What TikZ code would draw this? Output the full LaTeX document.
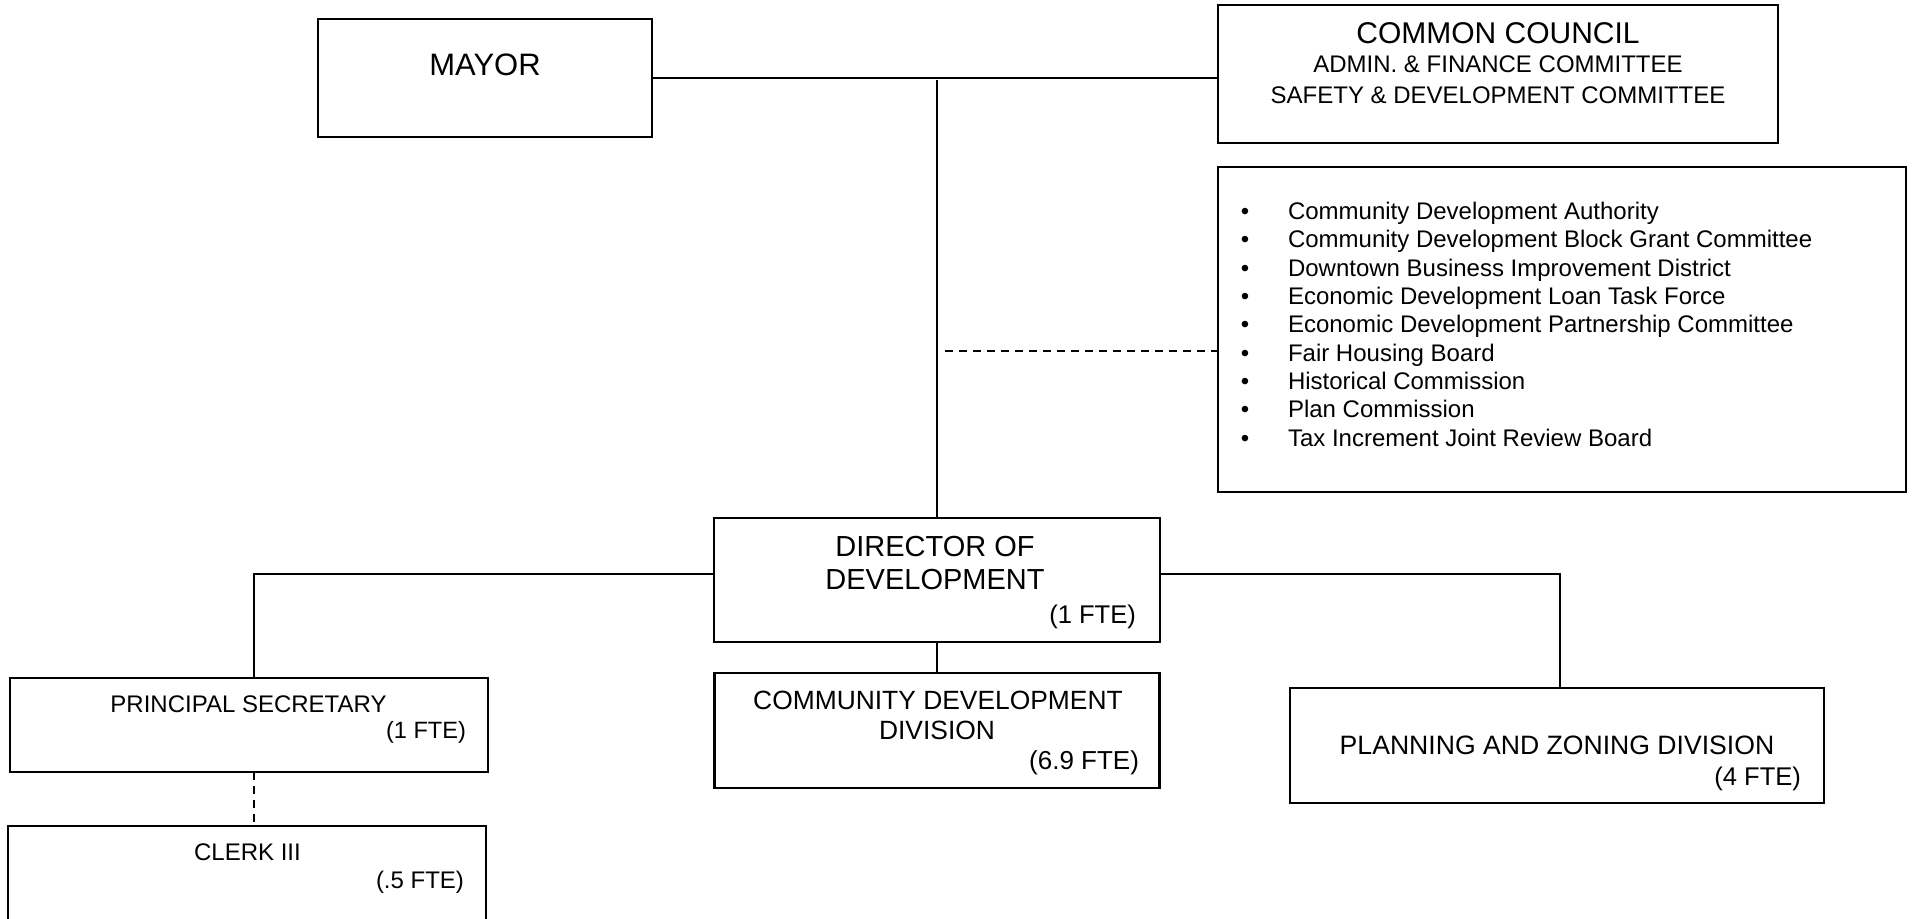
\documentclass[tikz,border=0pt]{standalone}
\usepackage{fontspec}
\setmainfont{Liberation Sans}
\begin{document}
\begin{tikzpicture}[x=0.5pt,y=-0.5pt,
  box/.style={draw=black, line width=1.1pt, rectangle, inner sep=0pt, outer sep=0pt},
  conn/.style={draw=black, line width=0.8pt},
  dconn/.style={conn, dash pattern=on 4pt off 3pt},
  lbl/.style={inner sep=0pt, outer sep=0pt, anchor=base},
  fte/.style={inner sep=0pt, outer sep=0pt, anchor=base east},
]
\useasboundingbox (0,0) rectangle (1919,918);
\clip (0,0) rectangle (1919,918);

% boxes
\node[box, minimum width=167pt, minimum height=59pt] (mayor) at (485,78) {};
\node[box, minimum width=280pt, minimum height=69pt] (council) at (1498,74) {};
\node[box, minimum width=344pt, minimum height=162.5pt] (boards) at (1562,329.5) {};
\node[box, minimum width=223pt, minimum height=62pt] (director) at (937,580) {};
\node[box, minimum width=222.5pt, minimum height=57.5pt] (cdd) at (937,730.5) {};
\node[box, minimum width=239pt, minimum height=47pt] (principal) at (249,725) {};
\node[box, minimum width=239pt, minimum height=67pt] (clerk) at (247,893) {};
\node[box, minimum width=267pt, minimum height=57.5pt] (pz) at (1557,745.5) {};

% connectors
\coordinate (vtop) at (937,80);
\coordinate (dstart) at (945,351);
\coordinate (lturn) at (254,574);
\coordinate (rturn) at (1560,574);
\draw[conn] (mayor.east) -- (mayor.east -| council.west);
\draw[conn] (vtop) -- (director.north);
\draw[dconn] (dstart) -- (dstart -| boards.west);
\draw[conn] (director.west |- lturn) -- (lturn) -- (lturn |- principal.north);
\draw[conn] (director.east |- rturn) -- (rturn) -- (rturn |- pz.north);
\draw[conn] (director.south) -- (cdd.north);
\draw[dconn] (principal.south -| lturn) -- (clerk.north -| lturn);

% texts
\node[lbl, font=\fontsize{15.5}{18}\selectfont] (tmayor) at (485,75.6) {MAYOR};
\node[lbl, font=\fontsize{15}{18}\selectfont] (tcc) at (1498,43.7) {COMMON COUNCIL};
\node[lbl, font=\fontsize{12}{14}\selectfont] (tadm) at (1498,72.6) {ADMIN. \& FINANCE COMMITTEE};
\node[lbl, font=\fontsize{12}{14}\selectfont] (tsaf) at (1498,103.1) {SAFETY \& DEVELOPMENT COMMITTEE};

\node[lbl, font=\fontsize{14.5}{17}\selectfont] (tdir1) at (935,556.9) {DIRECTOR OF};
\node[lbl, font=\fontsize{14.5}{17}\selectfont] (tdir2) at (935,589.9) {DEVELOPMENT};
\node[fte, font=\fontsize{12.8}{15}\selectfont] (tdir3) at (1136,623) {(1 FTE)};

\node[lbl, font=\fontsize{13.2}{15}\selectfont] (tcdd1) at (938,709.5) {COMMUNITY DEVELOPMENT};
\node[lbl, font=\fontsize{13.2}{15}\selectfont] (tcdd2) at (937,739.5) {DIVISION};
\node[fte, font=\fontsize{13}{15}\selectfont] (tcdd3) at (1139,769.6) {(6.9 FTE)};

\node[lbl, font=\fontsize{13.3}{15}\selectfont] (tpz1) at (1557,754.5) {PLANNING AND ZONING DIVISION};
\node[fte, font=\fontsize{12.8}{15}\selectfont] (tpz2) at (1801,785.4) {(4 FTE)};

\node[lbl, font=\fontsize{12}{14}\selectfont] (tps1) at (248.5,712.1) {PRINCIPAL SECRETARY};
\node[fte, font=\fontsize{11.8}{14}\selectfont] (tps2) at (466,738.6) {(1 FTE)};

\node[lbl, font=\fontsize{12}{14}\selectfont] (tcl1) at (247.5,860.6) {CLERK III};
\node[fte, font=\fontsize{12}{14}\selectfont] (tcl2) at (464,888) {(.5 FTE)};

% bullet list
\foreach \t [count=\i from 0] in {Community Development Authority,
  Community Development Block Grant Committee,
  Downtown Business Improvement District,
  Economic Development Loan Task Force,
  Economic Development Partnership Committee,
  Fair Housing Board,
  Historical Commission,
  Plan Commission,
  Tax Increment Joint Review Board} {
  \node[lbl, font=\fontsize{12}{14}\selectfont] (bu\i) at (1245,{219.6+28.3*\i}) {•};
  \node[lbl, anchor=base west, font=\fontsize{12}{14}\selectfont] (bl\i) at (1288,{219.6+28.3*\i}) {\t};
}
\end{tikzpicture}
\end{document}
